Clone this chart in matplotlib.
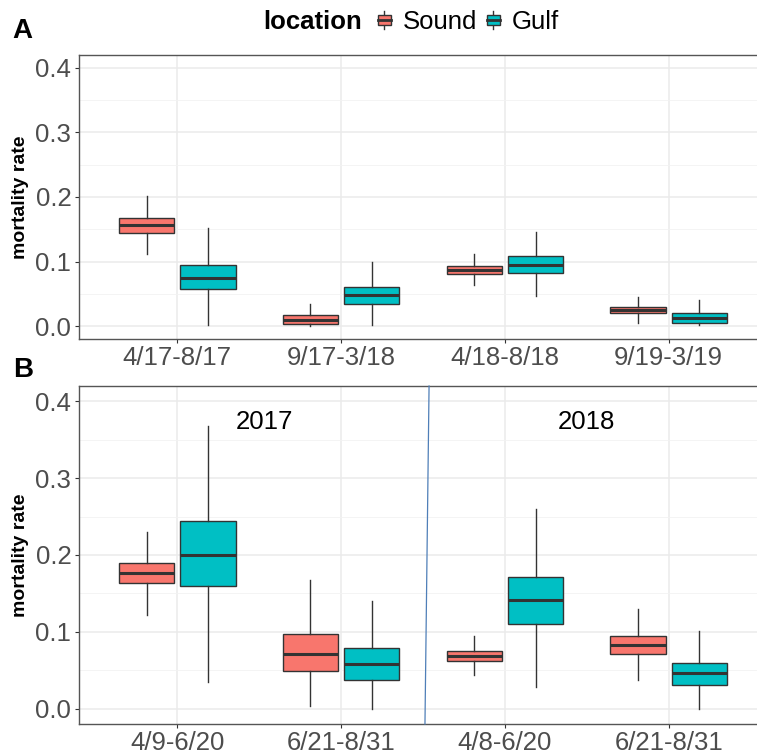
import matplotlib
matplotlib.use("Agg")
import matplotlib.pyplot as plt
from matplotlib.patches import Rectangle
from matplotlib.lines import Line2D
from matplotlib.legend_handler import HandlerBase
import matplotlib.transforms as mtransforms

plt.rcParams['font.family'] = ['Liberation Sans', 'DejaVu Sans']

# ---------------- data ----------------
locations = ["Sound", "Gulf"]
colors = {"Sound": "#F8766D", "Gulf": "#00BFC4"}

cats_A = ["4/17-8/17", "9/17-3/18", "4/18-8/18", "9/19-3/19"]
# [whisker_low, q1, median, q3, whisker_high]
A_sound = [
    [0.112, 0.144, 0.156, 0.168, 0.202],
    [0.000, 0.004, 0.010, 0.017, 0.035],
    [0.063, 0.081, 0.087, 0.093, 0.111],
    [0.005, 0.020, 0.025, 0.030, 0.045],
]
A_gulf = [
    [0.001, 0.057, 0.075, 0.095, 0.152],
    [0.001, 0.035, 0.048, 0.061, 0.099],
    [0.047, 0.082, 0.095, 0.108, 0.145],
    [0.001, 0.005, 0.013, 0.020, 0.041],
]

cats_B = ["4/9-6/20", "6/21-8/31", "4/8-6/20", "6/21-8/31"]
B_sound = [
    [0.122, 0.163, 0.176, 0.190, 0.230],
    [0.004, 0.049, 0.071, 0.097, 0.167],
    [0.044, 0.062, 0.069, 0.075, 0.094],
    [0.037, 0.071, 0.083, 0.095, 0.130],
]
B_gulf = [
    [0.035, 0.159, 0.200, 0.244, 0.368],
    [0.000, 0.037, 0.058, 0.079, 0.140],
    [0.028, 0.110, 0.141, 0.171, 0.260],
    [0.000, 0.031, 0.046, 0.059, 0.101],
]

year_labels = ["2017", "2018"]
year_label_x = [1.53, 3.50]
year_label_y = 0.373
divider_x = [2.512, 2.537]  # bottom, top (slightly slanted line)

y_ticks = [0.0, 0.1, 0.2, 0.3, 0.4]
y_minor = [0.05, 0.15, 0.25, 0.35]

# ---------------- style ----------------
W, H, DPI = 757, 754, 100
fig = plt.figure(figsize=(W / DPI, H / DPI), dpi=DPI)

def px_axes(left, top, right, bottom):
    return fig.add_axes([left / W, 1 - bottom / H, (right - left) / W, (bottom - top) / H])

axA = px_axes(79, 55, 767, 339)
axB = px_axes(79, 386, 767, 724)

dark = "#333333"
lw_line = 1.0

def stats_from(rows):
    out = []
    for lo, q1, med, q3, hi in rows:
        out.append(dict(whislo=lo, q1=q1, med=med, q3=q3, whishi=hi, fliers=[]))
    return out

def draw_panel(ax, cats, sound, gulf):
    n = len(cats)
    pos = list(range(1, n + 1))
    width = 0.75
    slot = width / 2
    bw = slot * 0.9
    for k, (name, rows) in enumerate([("Sound", sound), ("Gulf", gulf)]):
        offs = -slot / 2 + k * slot
        ax.bxp(stats_from(rows), positions=[p + offs for p in pos], widths=bw,
               patch_artist=True, showfliers=False, showcaps=False,
               boxprops=dict(facecolor=colors[name], edgecolor=dark, linewidth=lw_line),
               whiskerprops=dict(color=dark, linewidth=lw_line),
               medianprops=dict(color=dark, linewidth=2.2),
               manage_ticks=False, zorder=3)
    ax.set_xlim(0.4, n + 0.6)
    ax.set_ylim(-0.02, 0.42)
    ax.set_xticks(pos)
    ax.set_xticklabels(cats)
    ax.set_yticks(y_ticks)
    ax.set_yticklabels([f"{v:.1f}" for v in y_ticks])
    ax.set_yticks(y_minor, minor=True)
    ax.grid(True, which="major", color="#EBEBEB", linewidth=1.1, zorder=0)
    ax.grid(True, which="minor", axis="y", color="#F2F2F2", linewidth=0.6, zorder=0)
    ax.set_axisbelow(True)
    ax.tick_params(axis="both", which="major", length=3, width=0.8, color=dark,
                   labelsize=18.5, labelcolor="#4D4D4D")
    ax.tick_params(axis="x", pad=2)
    ax.tick_params(axis="y", pad=2.5)
    ax.tick_params(axis="y", which="minor", length=0)
    for s in ax.spines.values():
        s.set_color("#555555")
        s.set_linewidth(1.0)
    ax.set_ylabel("mortality rate", fontsize=14, fontweight="bold", color="black")
    ax.yaxis.set_label_coords(-0.0734, 0.5)

draw_panel(axA, cats_A, A_sound, A_gulf)
draw_panel(axB, cats_B, B_sound, B_gulf)

# year annotations and divider in panel B
for lab, xx in zip(year_labels, year_label_x):
    axB.text(xx, year_label_y, lab, fontsize=18.5, color="black", ha="center", va="center")
trans = mtransforms.blended_transform_factory(axB.transData, axB.transAxes)
axB.plot(divider_x, [0, 1], transform=trans, color="#4F7FB8", linewidth=0.9,
         clip_on=False, zorder=4)

# panel letters
fig.text(12 / W, 1 - 31 / H, "A", fontsize=20, fontweight="bold", ha="left", va="center")
fig.text(13 / W, 1 - 370 / H, "B", fontsize=20, fontweight="bold", ha="left", va="center")

# legend
class BoxHandler(HandlerBase):
    def create_artists(self, legend, orig_handle, xdescent, ydescent, width, height,
                       fontsize, trans):
        x0, y0 = -xdescent, -ydescent
        wl = Line2D([x0 + width / 2] * 2, [y0, y0 + height], color=dark, lw=1.0, transform=trans)
        r = Rectangle((x0, y0 + height * 0.22), width, height * 0.56,
                      facecolor=orig_handle.get_facecolor(), edgecolor=dark, lw=1.0,
                      transform=trans)
        md = Line2D([x0, x0 + width], [y0 + height / 2] * 2, color=dark, lw=2.0, transform=trans)
        return [wl, r, md]

handles = [Rectangle((0, 0), 1, 1, facecolor=colors[n]) for n in locations]
fig.text(362 / W, 1 - 22 / H, "location", fontsize=18.5, fontweight="bold",
         ha="right", va="center")
leg = fig.legend(handles, locations, handler_map={Rectangle: BoxHandler()},
                 loc="center left", bbox_to_anchor=(378 / W, 1 - 22 / H), ncol=2,
                 frameon=False, fontsize=18.5, handlelength=0.5, handleheight=0.75,
                 handletextpad=0.45, columnspacing=0.4, borderaxespad=0, borderpad=0)

fig.savefig("out.png", dpi=DPI)
